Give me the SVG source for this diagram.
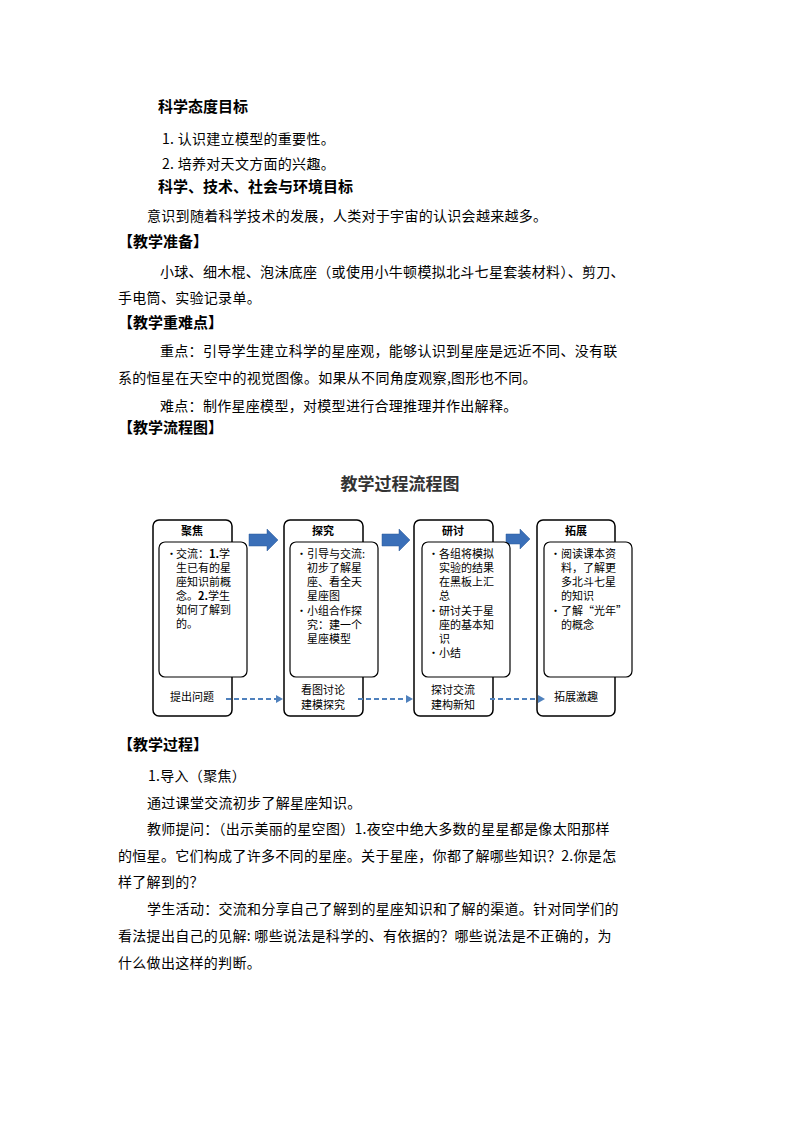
<svg xmlns="http://www.w3.org/2000/svg" width="794" height="1123" viewBox="0 0 794 1123">
<defs>
<style>
.t{font-family:"Noto Sans CJK SC","Liberation Serif",serif;font-size:14px;letter-spacing:0.3px;fill:#000}
.h{font-family:"Noto Sans CJK SC",sans-serif;font-size:15px;font-weight:bold;fill:#000}
.b{font-family:"Noto Sans CJK SC",sans-serif;font-size:11px;fill:#000}
.bb{font-family:"Noto Sans CJK SC",sans-serif;font-size:11px;font-weight:bold;fill:#000}
.ot{fill:#fff;stroke:#000;stroke-width:1.5}
.in{fill:#fff;stroke:#000;stroke-width:1.2}
.blue{fill:#3a6fb8;stroke:#2a5a9a;stroke-width:0.5}
.dash{stroke:#4f81bd;stroke-width:2;stroke-dasharray:5,3;fill:none}
</style>
<marker id="ah" markerWidth="8" markerHeight="8" refX="6" refY="4" orient="auto" markerUnits="userSpaceOnUse"><path d="M0,0 L7,4 L0,8 z" fill="#4f81bd"/></marker>
</defs>
<rect width="794" height="1123" fill="#fff"/>
<text class="h" x="158" y="112">科学态度目标</text>
<text class="t" x="162" y="144">1.  认识建立模型的重要性。</text>
<text class="t" x="162" y="169">2.  培养对天文方面的兴趣。</text>
<text class="h" x="158" y="192">科学、技术、社会与环境目标</text>
<text class="t" x="147" y="221">意识到随着科学技术的发展，人类对于宇宙的认识会越来越多。</text>
<text class="h" x="118" y="247">【教学准备】</text>
<text class="t" x="160" y="277">小球、细木棍、泡沫底座（或使用小牛顿模拟北斗七星套装材料）、剪刀、</text>
<text class="t" x="118" y="303">手电筒、实验记录单。</text>
<text class="h" x="118" y="328">【教学重难点】</text>
<text class="t" x="160" y="356">重点：引导学生建立科学的星座观，能够认识到星座是远近不同、没有联</text>
<text class="t" x="118" y="383">系的恒星在天空中的视觉图像。如果从不同角度观察,图形也不同。</text>
<text class="t" x="160" y="411">难点：制作星座模型，对模型进行合理推理并作出解释。</text>
<text class="h" x="118" y="433">【教学流程图】</text>
<text x="400" y="490" text-anchor="middle" style="font-family:'Noto Sans CJK SC',sans-serif;font-size:17px;font-weight:bold;fill:#333">教学过程流程图</text>
<g id="arrows">
<path class="blue" d="M249,534 h18 v-5 l11,11 l-11,11 v-5 h-18 z"/>
<path class="blue" d="M382,534 h17 v-5 l11,11 l-11,11 v-5 h-17 z"/>
<path class="blue" d="M506,534 h14 v-5 l10,10 l-10,10 v-5 h-14 z"/>
</g>
<g id="n1"><rect class="ot" x="153" y="520" width="79" height="196" rx="6"/><text class="bb" x="192" y="535" text-anchor="middle">聚焦</text>
<rect class="in" x="159" y="542" width="88" height="135" rx="6"/>
<text class="b" x="166" y="558">•</text><text class="b" x="176" y="558">交流：<tspan font-weight="bold">1.</tspan>学</text><text class="b" x="176" y="572">生已有的星</text><text class="b" x="176" y="586">座知识前概</text><text class="b" x="176" y="600">念。<tspan font-weight="bold">2.</tspan>学生</text><text class="b" x="176" y="614">如何了解到</text><text class="b" x="176" y="628">的。</text>
<text class="b" x="192" y="701" text-anchor="middle">提出问题</text></g>
<g id="n2"><rect class="ot" x="284" y="520" width="79" height="196" rx="6"/><text class="bb" x="323" y="535" text-anchor="middle">探究</text>
<rect class="in" x="290" y="542" width="88" height="135" rx="6"/>
<text class="b" x="296" y="558">•</text><text class="b" x="307" y="558">引导与交流:</text><text class="b" x="307" y="572">初步了解星</text><text class="b" x="307" y="586">座、看全天</text><text class="b" x="307" y="600">星座图</text>
<text class="b" x="296" y="615">•</text><text class="b" x="307" y="615">小组合作探</text><text class="b" x="307" y="629">究：建一个</text><text class="b" x="307" y="643">星座模型</text>
<text class="b" x="323" y="694" text-anchor="middle">看图讨论</text><text class="b" x="323" y="709" text-anchor="middle">建模探究</text></g>
<g id="n3"><rect class="ot" x="414" y="520" width="79" height="196" rx="6"/><text class="bb" x="453" y="535" text-anchor="middle">研讨</text>
<rect class="in" x="422" y="542" width="88" height="135" rx="6"/>
<text class="b" x="428" y="558">•</text><text class="b" x="439" y="558">各组将模拟</text><text class="b" x="439" y="572">实验的结果</text><text class="b" x="439" y="586">在黑板上汇</text><text class="b" x="439" y="600">总</text>
<text class="b" x="428" y="615">•</text><text class="b" x="439" y="615">研讨关于星</text><text class="b" x="439" y="629">座的基本知</text><text class="b" x="439" y="643">识</text>
<text class="b" x="428" y="657">•</text><text class="b" x="439" y="657">小结</text>
<text class="b" x="453" y="694" text-anchor="middle">探讨交流</text><text class="b" x="453" y="709" text-anchor="middle">建构新知</text></g>
<g id="n4"><rect class="ot" x="537" y="520" width="78" height="196" rx="6"/><text class="bb" x="576" y="535" text-anchor="middle">拓展</text>
<rect class="in" x="544" y="542" width="88" height="135" rx="6"/>
<text class="b" x="550" y="558">•</text><text class="b" x="561" y="558">阅读课本资</text><text class="b" x="561" y="572">料，了解更</text><text class="b" x="561" y="586">多北斗七星</text><text class="b" x="561" y="600">的知识</text>
<text class="b" x="550" y="615">•</text><text class="b" x="561" y="615">了解“光年”</text><text class="b" x="561" y="629">的概念</text>
<text class="b" x="576" y="701" text-anchor="middle">拓展激趣</text></g>
<g id="connectors">
<path class="dash" d="M226,699 H282" marker-end="url(#ah)"/>
<path class="dash" d="M358,699 H412" marker-end="url(#ah)"/>
<path class="dash" d="M490,699 H544" marker-end="url(#ah)"/>
</g>
<text class="h" x="118" y="750">【教学过程】</text>
<text class="t" x="148" y="781">1.导入（聚焦）</text>
<text class="t" x="147" y="808">通过课堂交流初步了解星座知识。</text>
<text class="t" x="147" y="834">教师提问：（出示美丽的星空图）1.夜空中绝大多数的星星都是像太阳那样</text>
<text class="t" x="118" y="861">的恒星。它们构成了许多不同的星座。关于星座，你都了解哪些知识？2.你是怎</text>
<text class="t" x="118" y="887">样了解到的？</text>
<text class="t" x="147" y="914">学生活动：交流和分享自己了解到的星座知识和了解的渠道。针对同学们的</text>
<text class="t" x="118" y="941">看法提出自己的见解: 哪些说法是科学的、有依据的？哪些说法是不正确的，为</text>
<text class="t" x="118" y="968">什么做出这样的判断。</text>
</svg>
